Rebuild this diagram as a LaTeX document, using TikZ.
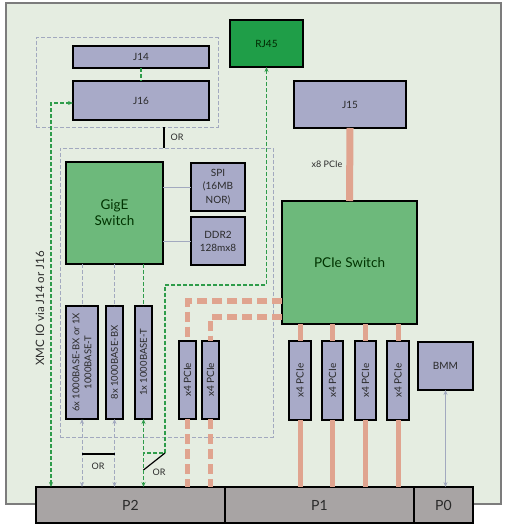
\documentclass[tikz,border=0pt]{standalone}
\usepackage{fontspec}
\setmainfont{Lato}
\usetikzlibrary{arrows.meta,calc}
\definecolor{boardbg}{HTML}{E5EDE1}
\definecolor{boardln}{HTML}{7C7C7C}
\definecolor{lav}{HTML}{A8AAC8}
\definecolor{gbox}{HTML}{6DB97B}
\definecolor{rjg}{HTML}{1F9E48}
\definecolor{salm}{HTML}{E0A48F}
\definecolor{gdsh}{HTML}{2E9C4A}
\definecolor{grdsh}{HTML}{A2A9BF}
\definecolor{pbar}{HTML}{A8A4A4}
\definecolor{txt}{HTML}{2A2A2A}
\begin{document}
\begin{tikzpicture}[x=1pt,y=-1pt,
  box/.style={draw=black,line width=1.1pt,inner sep=0pt,outer sep=0pt,text=txt},
  lavbox/.style={box,fill=lav},
  greenbox/.style={box,fill=gbox,text=black!80!green},
  dbox/.style={draw=grdsh,line width=1pt,dash pattern=on 4pt off 2pt,inner sep=0pt,outer sep=0pt},
  gdash/.style={draw=gdsh,line width=1.1pt,dash pattern=on 4pt off 2pt},
  grdash/.style={draw=grdsh,line width=1pt,dash pattern=on 4pt off 2pt},
  grsolid/.style={draw=grdsh,line width=1pt},
  sline/.style={draw=salm,line width=5pt},
  sdash/.style={draw=salm,line width=5.5pt,dash pattern=on 10pt off 5pt},
  tips/.style={{Stealth[length=5pt,width=4pt]}-{Stealth[length=5pt,width=4pt]}},
  lbl/.style={text=txt,inner sep=0pt},
  every node/.style={font=\fontsize{10}{13}\selectfont}
]
\useasboundingbox (0,0) rectangle (510,532);
% board
\node[draw=boardln,fill=boardbg,line width=1.3pt,minimum width=495pt,minimum height=501pt,inner sep=0pt] (board) at (253.5,253.5) {};
% dashed groups
\node[dbox,minimum width=182pt,minimum height=89pt] (grp1) at (127,82.5) {};
\node[dbox,minimum width=213pt,minimum height=289pt] (grp2) at (166.5,292.5) {};
% top boxes
\node[box,fill=rjg,minimum width=73pt,minimum height=47pt,text=black!85!green] (rj45) at (266.5,43.5) {RJ45};
\node[lavbox,minimum width=112pt,minimum height=47pt] (j15) at (350,104.5) {J15};
\node[lavbox,minimum width=136pt,minimum height=22pt] (j14) at (141,57) {J14};
\node[lavbox,minimum width=136pt,minimum height=39pt] (j16) at (141,100.5) {J16};
% GigE section
\node[greenbox,minimum width=97pt,minimum height=102pt,align=center,font=\fontsize{13.5}{16}\selectfont] (gige) at (114.5,213) {GigE\\Switch};
\node[lavbox,minimum width=54pt,minimum height=48pt,align=center,font=\fontsize{10}{13.5}\selectfont] (spi) at (218,187) {SPI\\(16MB\\NOR)};
\node[lavbox,minimum width=54pt,minimum height=48pt,align=center,font=\fontsize{10}{13}\selectfont] (ddr) at (218,241) {DDR2\\128mx8};
\node[lavbox,minimum width=32pt,minimum height=113pt] (boxa) at (82,362.5) {};
\node[lavbox,minimum width=17pt,minimum height=113pt] (boxb) at (114.5,362.5) {};
\node[lavbox,minimum width=17pt,minimum height=113pt] (boxc) at (143.5,362.5) {};
\node[lbl,rotate=90,align=center,font=\fontsize{9.5}{12}\selectfont] (boxat) at (boxa) {6x 1000BASE-BX or 1X\\1000BASE-T};
\node[lbl,rotate=90,font=\fontsize{9.5}{12}\selectfont] (boxbt) at (boxb) {8x 1000BASE-BX};
\node[lbl,rotate=90,font=\fontsize{9.5}{12}\selectfont] (boxct) at (boxc) {1x 1000BASE-T};
\node[lavbox,minimum width=17pt,minimum height=78pt] (l1) at (187.5,380) {};
\node[lavbox,minimum width=17pt,minimum height=78pt] (l2) at (210.5,380) {};
\node[lbl,rotate=90] (l1t) at (l1) {x4 PCIe};
\node[lbl,rotate=90] (l2t) at (l2) {x4 PCIe};
% PCIe section
\node[greenbox,minimum width=135pt,minimum height=123pt,font=\fontsize{13.5}{16}\selectfont] (pcisw) at (349.5,262.5) {PCIe Switch};
\node[lavbox,minimum width=22pt,minimum height=79pt] (r1) at (300,380.5) {};
\node[lavbox,minimum width=21pt,minimum height=79pt] (r2) at (332.5,380.5) {};
\node[lavbox,minimum width=21pt,minimum height=79pt] (r3) at (365.5,380.5) {};
\node[lavbox,minimum width=22pt,minimum height=79pt] (r4) at (398,380.5) {};
\foreach \r in {r1,r2,r3,r4}{\node[lbl,rotate=90] (\r t) at (\r) {x4 PCIe};}
\node[lavbox,minimum width=55pt,minimum height=48pt] (bmm) at (445.5,366) {BMM};
% backplane connectors
\node[box,fill=pbar,minimum width=189pt,minimum height=36pt,font=\fontsize{14}{16}\selectfont] (p2) at (130.5,505) {P2};
\node[box,fill=pbar,minimum width=189pt,minimum height=36pt,font=\fontsize{14}{16}\selectfont] (p1) at (319.5,505) {P1};
\node[box,fill=pbar,minimum width=59pt,minimum height=36pt,font=\fontsize{14}{16}\selectfont] (p0) at (443.5,505) {P0};
% XMC label
\node[lbl,rotate=90,font=\fontsize{11.5}{13}\selectfont] (xmc) at (40,308.5) {XMC IO via J14 or J16};
% coordinates
\coordinate (xmcc) at (51,103);
\coordinate (orx) at (164,0);
\coordinate (rjy) at (0,285);
\coordinate (swtop) at (165,453);
\coordinate (swbot) at (0,470);
\coordinate (ory) at (0,454);
\coordinate (s1y) at (0,301);
\coordinate (s2y) at (0,317);
% connectors: J14/J16 and XMC
\draw[gdash] (j14.south) -- (j16.north);
\draw[gdash,tips] (j16.west |- xmcc) -- (xmcc) -- (xmcc |- p2.north);
\draw[black,line width=1.3pt] (grp1.south -| orx) -- (grp2.north -| orx);
\node[lbl,font=\fontsize{9}{11}\selectfont] (ortop) at (177,137) {OR};
% RJ45 path
\draw[gdash,{Stealth[length=5pt,width=4pt]}-] (rj45.south) -- (rj45.south |- rjy) -| (swtop) -- (boxc.south |- swtop);
\draw[black,line width=1.2pt] (boxc.south |- swbot) -- (swtop);
\node[lbl,font=\fontsize{9}{11}\selectfont] (orright) at (159,472) {OR};
% GigE links
\draw[grsolid] (gige.east |- spi) -- (spi.west);
\draw[grsolid] (gige.east |- ddr) -- (ddr.west);
\draw[grdash] (gige.south -| boxa) -- (boxa.north);
\draw[grdash] (gige.south -| boxb) -- (boxb.north);
\draw[gdash] (gige.south -| boxc) -- (boxc.north);
\draw[grdash,tips] (boxa.south) -- (boxa.south |- p2.north);
\draw[grdash,tips] (boxb.south) -- (boxb.south |- p2.north);
\draw[gdash,tips] (boxc.south) -- (boxc.south |- p2.north);
\draw[black,line width=1.2pt] (boxa.south |- ory) -- (boxb.south |- ory);
\node[lbl,font=\fontsize{9}{11}\selectfont] (orleft) at (98,466) {OR};
% PCIe links
\draw[draw=salm,line width=7pt] (j15.south) -- (pcisw.north);
\node[lbl,font=\fontsize{9}{11}\selectfont] (x8) at (327,164) {x8 PCIe};
\foreach \r in {r1,r2,r3,r4}{
  \draw[sline] (pcisw.south -| \r) -- (\r.north);
  \draw[sline] (\r.south) -- (\r.south |- p1.north);
}
\draw[sdash] (pcisw.west |- s1y) -| (l1.north);
\draw[sdash] (l1.south) -- (l1.south |- p2.north);
\draw[sdash] (pcisw.west |- s2y) -| (l2.north);
\draw[sdash] (l2.south) -- (l2.south |- p2.north);
% BMM
\draw[grsolid,tips] (bmm.south) -- (bmm.south |- p0.north);
\end{tikzpicture}
\end{document}
